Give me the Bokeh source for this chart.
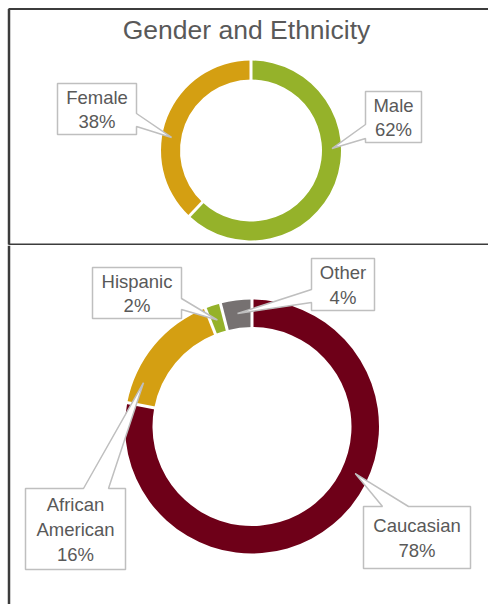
import math
from bokeh.plotting import figure
from bokeh.layouts import column
from bokeh.models import Range1d, Label, ColumnDataSource
from bokeh.core.properties import value
from bokeh.embed import file_html
from bokeh.resources import INLINE

# ---------------- data ----------------
title_text = "Gender and Ethnicity"
gender_labels = ["Male", "Female"]
gender_pct = [62, 38]
gender_colors = ["#95B22A", "#D49F12"]

eth_labels = ["Caucasian", "African American", "Hispanic", "Other"]
eth_pct = [78, 16, 2, 4]
eth_colors = ["#6E0018", "#D49F12", "#95B22A", "#767171"]

# ---------------- layout / style ----------------
W = 488
TOP_SY0, TOP_SY1 = 0, 245
BOT_SY0, BOT_SY1 = 245, 604
FONT = "Liberation Sans"
TXT = "#595959"
BOX_LINE = "#BFBFBF"
BORDER = "#3C3C3C"

gender_ring = dict(center=(250.5, 150), r_in=71, r_out=90)
eth_ring = dict(center=(251.5, 426), r_in=99.5, r_out=127)

gender_callouts = {
    "Male": dict(box=(365, 91, 421, 142), side="left", base=(124, 138), angle=1.4, r=81),
    "Female": dict(box=(57, 83, 136, 134), side="right", base=(113, 126), angle=170.7, r=80.5),
}
eth_callouts = {
    "Caucasian": dict(box=(363, 506, 470, 568), side="top", base=(382, 408), angle=-24.5, r=113.5),
    "African American": dict(box=(25, 488, 125, 569), side="top", base=(83, 108), angle=158, r=117),
    "Hispanic": dict(box=(92, 267, 181, 318), side="right", base=(298, 309), angle=108, r=112),
    "Other": dict(box=(311, 258, 374, 310), side="left", base=(289, 302), angle=97.3, r=114),
}


def make_panel(sy0, sy1):
    h = sy1 - sy0
    p = figure(width=W, height=h, x_range=Range1d(0, W), y_range=Range1d(0, h),
               output_backend="svg", toolbar_location=None,
               x_axis_location=None, y_axis_location=None, min_border=0)
    p.grid.visible = False
    p.outline_line_color = None
    p.background_fill_color = "white"
    p.border_fill_color = "white"

    def conv(sx, sy):
        return sx, sy1 - sy
    return p, conv, h


def donut(p, conv, ring, labels, pcts, colors, callouts):
    scx, scy = ring["center"]
    cx, cy = conv(scx, scy)
    r_in, r_out = ring["r_in"], ring["r_out"]
    total = float(sum(pcts))
    starts, ends = [], []
    cum = 0.0
    for v in pcts:
        starts.append(math.pi / 2 - 2 * math.pi * cum / total)
        cum += v
        ends.append(math.pi / 2 - 2 * math.pi * cum / total)
    n = len(pcts)
    src = ColumnDataSource(dict(x=[cx] * n, y=[cy] * n, start=starts, end=ends,
                                color=colors, label=labels, pct=pcts))
    p.annular_wedge(x="x", y="y", inner_radius=r_in, outer_radius=r_out,
                    start_angle="start", end_angle="end", direction="clock",
                    fill_color="color", line_color=None, source=src)
    # white separators between slices
    p.segment(x0=[cx + (r_in - 2) * math.cos(a) for a in starts],
              y0=[cy + (r_in - 2) * math.sin(a) for a in starts],
              x1=[cx + (r_out + 2) * math.cos(a) for a in starts],
              y1=[cy + (r_out + 2) * math.sin(a) for a in starts],
              line_color="white", line_width=3)

    xs, ys, tx, ty, tt = [], [], [], [], []
    for lab, pct in zip(labels, pcts):
        c = callouts[lab]
        x0, y0, x1, y1 = c["box"]
        a, b = c["base"]
        ang = math.radians(c["angle"])
        tip = (scx + c["r"] * math.cos(ang), scy - c["r"] * math.sin(ang))
        if c["side"] == "top":
            pts = [(x0, y0), (a, y0), tip, (b, y0), (x1, y0), (x1, y1), (x0, y1)]
        elif c["side"] == "right":
            pts = [(x0, y0), (x1, y0), (x1, a), tip, (x1, b), (x1, y1), (x0, y1)]
        else:
            pts = [(x0, y0), (x1, y0), (x1, y1), (x0, y1), (x0, b), tip, (x0, a)]
        dp = [conv(*q) for q in pts]
        xs.append([q[0] for q in dp])
        ys.append([q[1] for q in dp])
        mx, my = conv((x0 + x1) / 2, (y0 + y1) / 2 + 0.5)
        tx.append(mx)
        ty.append(my)
        tt.append(lab.replace(" ", "\n") + "\n" + f"{pct}%")
    p.patches(xs, ys, fill_color="white", line_color=BOX_LINE, line_width=1.5)
    p.text(x=tx, y=ty, text=tt, text_font=value(FONT), text_font_size="18.5px",
           text_color=TXT, text_align="center", text_baseline="middle",
           text_line_height=1.17)


# ---------------- top panel ----------------
p_top, conv_top, h_top = make_panel(TOP_SY0, TOP_SY1)
donut(p_top, conv_top, gender_ring, gender_labels, gender_pct, gender_colors, gender_callouts)
tx, ty = conv_top(246, 29)
p_top.add_layout(Label(x=tx, y=ty, text=title_text, text_font=FONT, text_font_size="26.5px",
                       text_color=TXT, text_align="center", text_baseline="middle"))
# panel borders
_, by_top = conv_top(0, 8.5)
_, by_bot = conv_top(0, 244)
p_top.line([8, W], [by_top, by_top], line_color=BORDER, line_width=2)
p_top.line([8.5, 8.5], [by_bot, by_top], line_color=BORDER, line_width=2.5)
p_top.line([8, W], [by_bot, by_bot], line_color=BORDER, line_width=2)

# ---------------- bottom panel ----------------
p_bot, conv_bot, h_bot = make_panel(BOT_SY0, BOT_SY1)
donut(p_bot, conv_bot, eth_ring, eth_labels, eth_pct, eth_colors, eth_callouts)
p_bot.line([8.5, 8.5], [0, h_bot], line_color=BORDER, line_width=2.5)

layout = column(p_top, p_bot, spacing=0)
open("out.html", "w").write(file_html(layout, INLINE, title_text))
